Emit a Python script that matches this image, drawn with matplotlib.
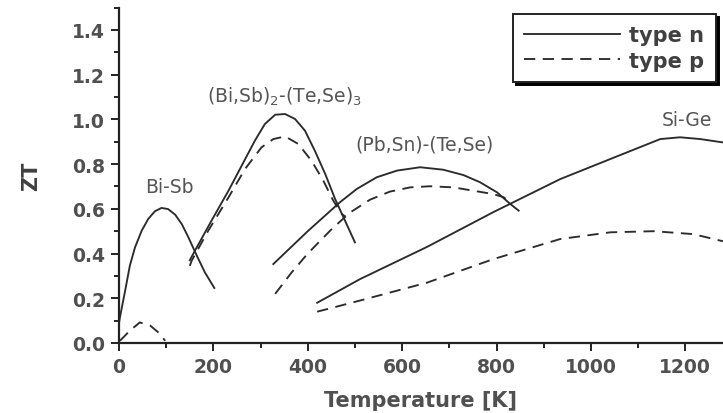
import matplotlib
matplotlib.use("Agg")
import matplotlib.pyplot as plt
from matplotlib.ticker import MultipleLocator

# ---- data ----
bisb_n_T  = [0, 2, 13, 23, 34, 48, 62, 76, 90, 104, 119, 133, 147, 165, 182, 202]
bisb_n_ZT = [0.09, 0.115, 0.234, 0.346, 0.428, 0.502, 0.555, 0.589, 0.604,
             0.599, 0.574, 0.532, 0.473, 0.39, 0.316, 0.246]
bisb_p_T  = [2, 23, 44, 66, 83, 98]
bisb_p_ZT = [0.01, 0.055, 0.092, 0.078, 0.048, 0.01]

bite_n_T  = [150, 161, 196, 232, 260, 288, 309, 331, 352, 373, 394, 415, 437,
             458, 479, 500]
bite_n_ZT = [0.37, 0.413, 0.547, 0.681, 0.793, 0.905, 0.979, 1.021, 1.024,
             1.002, 0.95, 0.86, 0.756, 0.644, 0.547, 0.45]
bite_p_T  = [150, 154, 189, 232, 267, 302, 327, 352, 380, 408, 433, 454, 472, 480]
bite_p_ZT = [0.345, 0.368, 0.502, 0.651, 0.778, 0.875, 0.912, 0.924, 0.89,
             0.815, 0.726, 0.637, 0.577, 0.565]

pbte_n_T  = [327, 400, 468, 504, 546, 589, 638, 687, 730, 765, 801, 829, 847]
pbte_n_ZT = [0.353, 0.50, 0.629, 0.689, 0.741, 0.771, 0.786, 0.775, 0.751,
             0.719, 0.674, 0.622, 0.592]
pbte_p_T  = [331, 366, 400, 451, 490, 532, 574, 617, 659, 709, 751, 793, 815, 828]
pbte_p_ZT = [0.22, 0.316, 0.40, 0.51, 0.584, 0.641, 0.677, 0.696, 0.701,
             0.696, 0.681, 0.666, 0.652, 0.63]

sige_n_T  = [420, 511, 653, 793, 935, 1077, 1147, 1189, 1232, 1280]
sige_n_ZT = [0.18, 0.286, 0.43, 0.585, 0.733, 0.853, 0.912, 0.92, 0.912, 0.897]
sige_p_T  = [420, 511, 653, 793, 935, 1041, 1133, 1217, 1280]
sige_p_ZT = [0.14, 0.19, 0.27, 0.375, 0.465, 0.495, 0.50, 0.487, 0.455]

labels = ["Bi-Sb", "(Bi,Sb)$_2$-(Te,Se)$_3$", "(Pb,Sn)-(Te,Se)", "Si-Ge"]
label_T = [106, 350, 648, 1204]
label_ZT = [0.70, 1.105, 0.89, 1.00]

x_ticks = [0, 200, 400, 600, 800, 1000, 1200]
y_ticks = [0.0, 0.2, 0.4, 0.6, 0.8, 1.0, 1.2, 1.4]
legend_labels = ["type n", "type p"]

# ---- figure ----
W, H = 723, 414
fig = plt.figure(figsize=(W / 100, H / 100), dpi=100)
left, bottom = 119 / W, 70 / H
ax = fig.add_axes([left, bottom, 1 - left, 335.4 / H])

lc = "#2b2b2b"
lw = 1.35
dash = (0, (6, 4))

ax.plot(bisb_n_T, bisb_n_ZT, color=lc, lw=lw, label=legend_labels[0])
ax.plot(bisb_p_T, bisb_p_ZT, color=lc, lw=lw, ls=dash, label=legend_labels[1])
for T, Z in [(bite_n_T, bite_n_ZT), (pbte_n_T, pbte_n_ZT), (sige_n_T, sige_n_ZT)]:
    ax.plot(T, Z, color=lc, lw=lw)
for T, Z in [(bite_p_T, bite_p_ZT), (pbte_p_T, pbte_p_ZT), (sige_p_T, sige_p_ZT)]:
    ax.plot(T, Z, color=lc, lw=lw, ls=dash)

for s, t, z in zip(labels, label_T, label_ZT):
    ax.text(t, z, s, ha="center", va="center", fontsize=13.5,
            family="DejaVu Sans", color="#555555")

ax.set_xlim(0, 1280)
ax.set_ylim(0, 1.5)
ax.set_xticks(x_ticks)
ax.set_yticks(y_ticks)
ax.set_yticklabels([f"{v:.1f}" for v in y_ticks])
ax.xaxis.set_minor_locator(MultipleLocator(100))
ax.yaxis.set_minor_locator(MultipleLocator(0.1))

for side in ["top", "right"]:
    ax.spines[side].set_visible(False)
for side in ["left", "bottom"]:
    ax.spines[side].set_linewidth(1.6)
    ax.spines[side].set_color("#222222")

ax.tick_params(which="major", direction="out", length=6, width=1.4,
               color="#222222", labelsize=13.5, labelcolor="#505050", pad=4)
ax.tick_params(which="minor", direction="out", length=3.5, width=1.4,
               color="#222222")
for lab in ax.get_xticklabels() + ax.get_yticklabels():
    lab.set_fontweight("bold")
    lab.set_family("DejaVu Sans")

ax.set_xlabel("Temperature [K]", fontsize=15, fontweight="bold",
              color="#505050", labelpad=10)
ax.set_ylabel("ZT", fontsize=15, fontweight="bold", color="#404040", labelpad=22)

leg = ax.legend(loc="upper right", bbox_to_anchor=(716 / W, 1 - 15 / H),
                bbox_transform=fig.transFigure, frameon=True, fancybox=False,
                shadow={"color": "black", "alpha": 1.0},
                prop={"size": 15, "weight": "bold", "family": "DejaVu Sans"},
                handlelength=4.6, handletextpad=0.45, labelspacing=0.25,
                borderpad=0.55, borderaxespad=0)
leg.get_frame().set_edgecolor("#222222")
leg.get_frame().set_linewidth(1.4)
for t in leg.get_texts():
    t.set_color("#404040")

fig.savefig("out.png", dpi=100)
